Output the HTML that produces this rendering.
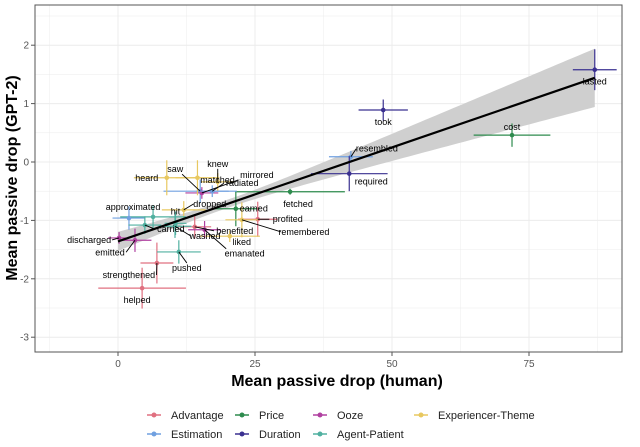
<!DOCTYPE html>
<html><head><meta charset="utf-8"><style>
body{margin:0;background:#fff;font-family:"Liberation Sans",sans-serif;}
svg text{font-family:"Liberation Sans",sans-serif;}
</style></head><body>
<svg id="chart" width="640" height="442" viewBox="0 0 640 442">
<g id="grid"></g>
<g id="ribbon"></g>
<g id="marks"></g>
<g id="fitg"></g>
<g id="labels"></g>
<rect x="35" y="5" width="587" height="347" fill="none" stroke="#555" stroke-width="1"/>
<g id="axes"></g>
<text x="337" y="386" text-anchor="middle" font-size="16" font-weight="bold">Mean passive drop (human)</text>
<text transform="translate(17,178) rotate(-90)" text-anchor="middle" font-size="16" font-weight="bold">Mean passive drop (GPT-2)</text>
<g id="legend"></g>
</svg>
<script>
const classNames=["Advantage","Price","Ooze","Experiencer-Theme","Estimation","Duration","Agent-Patient"];
const classColors=["#e07080","#2e8b4e","#b040a0","#e8c860","#70a0e0","#3a3090","#50b0a0"];
const verbs=["lasted","took","cost","resembled","required","fetched","earned","profited","remembered","liked","benefited","hit","washed","emanated","dropped","saw","mirrored","radiated","matched","knew","heard","approximated","approx2","discharged","emitted","carried","strengthened","pushed","helped"];
const verbClass=[5,5,1,4,5,1,1,0,3,3,0,6,6,2,3,4,2,4,3,3,3,6,4,2,2,6,0,6,0];
const xVals=[87,48.4,71.9,42.5,42.2,31.4,21.5,25.5,22.6,20.4,14,10.5,10.4,15.8,12,15,15.3,17.2,14.5,18.2,8.9,6.4,2,0.2,3.1,4.9,7.1,11.1,4.4];
const yVals=[1.58,0.89,0.46,0.09,-0.2,-0.51,-0.8,-0.98,-0.99,-1.27,-1.11,-1.05,-1.1,-1.16,-0.82,-0.5,-0.53,-0.5,-0.27,-0.34,-0.27,-0.94,-0.96,-1.3,-1.34,-1.08,-1.73,-1.54,-2.16];
const xErr=[4,4.5,7,4,7,10,4.4,3.6,3,5.5,3,2,3,3,4,6.7,3,3,4,3,6,6,3,2,3,3,3,4,8];
const yErr=[0.35,0.18,0.2,0.1,0.3,0.05,0.3,0.3,0.3,0.1,0.2,0.2,0.2,0.15,0.15,0.2,0.1,0.1,0.3,0.15,0.3,0.2,0.2,0.1,0.2,0.15,0.35,0.2,0.35];
const labelText=["lasted","took","cost","resembled","required","fetched","earned","profited","remembered","liked","benefited","hit","washed","emanated","dropped","saw","mirrored","radiated","matched","knew","heard","approximated","","discharged","emitted","carried","strengthened","pushed","helped"];
const labelDx=[0,0,0,26,22,8,18,30,62,12,40,0,30,40,26,-25,55,30,20,0,-20,-20,0,-30,-25,26,-28,8,-5];
const labelDy=[12,12,-8,-8,8,12,0,0,12,6,4,-12,10,24,-6,-22,-18,-8,2,-18,0,-10,0,2,12,4,12,16,12];
const xTicks=[0,25,50,75], yTicks=[-3,-2,-1,0,1,2];
const fitA=-1.36, fitB=0.0322, fitXm=20, seA=0.005, seB=0.0000545;
const X=v=>118+v*5.48, Y=v=>162-v*58.4;
const NS="http://www.w3.org/2000/svg";
function mk(p,t,a){const e=document.createElementNS(NS,t);for(const k in a)e.setAttribute(k,a[k]);p.appendChild(e);return e;}
const grid=document.getElementById('grid');
for(let v=-12.5;v<=87.5;v+=12.5){const l=mk(grid,'line',{x1:X(v),x2:X(v),y1:5,y2:352,stroke:'#ececec','stroke-width':Number.isInteger(v/25)?1:0.5});
}
for(let v=-3.5;v<=2.5;v+=0.5){if(Y(v)<5||Y(v)>352)continue;const l=mk(grid,'line',{x1:35,x2:622,y1:Y(v),y2:Y(v),stroke:'#ececec','stroke-width':Number.isInteger(v)?1:0.5});
}
const axes=document.getElementById('axes');
xTicks.forEach(t=>{mk(axes,'line',{x1:X(t),x2:X(t),y1:352,y2:356,stroke:'#555'});const tx=mk(axes,'text',{x:X(t),y:367,'text-anchor':'middle','font-size':10,fill:'#555'});tx.textContent=t;
});
yTicks.forEach(t=>{mk(axes,'line',{x1:31,x2:35,y1:Y(t),y2:Y(t),stroke:'#555'});const tx=mk(axes,'text',{x:29,y:Y(t)+3.5,'text-anchor':'end','font-size':10,fill:'#555'});tx.textContent=t;
});
const rib=document.getElementById('ribbon');let up=[],dn=[];
for(let x=0;x<=87;x+=1){const f=fitA+fitB*x,s=Math.sqrt(seA+seB*(x-fitXm)**2);up.push(X(x)+','+Y(f+s));dn.unshift(X(x)+','+Y(f-s));}
const band=mk(rib,'polygon',{points:up.concat(dn).join(' '),fill:'#cfcfcf'});

const marks=document.getElementById('marks');
verbs.forEach((v,i)=>{const c=classColors[verbClass[i]],g=mk(marks,'g',{});

mk(g,'line',{x1:X(xVals[i]-xErr[i]),x2:X(xVals[i]+xErr[i]),y1:Y(yVals[i]),y2:Y(yVals[i]),stroke:c,'stroke-width':1.2});
mk(g,'line',{x1:X(xVals[i]),x2:X(xVals[i]),y1:Y(yVals[i]-yErr[i]),y2:Y(yVals[i]+yErr[i]),stroke:c,'stroke-width':1.2});
mk(g,'circle',{cx:X(xVals[i]),cy:Y(yVals[i]),r:2.3,fill:c});});
const fit=mk(document.getElementById('fitg'),'line',{x1:X(0),y1:Y(fitA),x2:X(87),y2:Y(fitA+fitB*87),stroke:'#000','stroke-width':2.2});

const lab=document.getElementById('labels');
verbs.forEach((v,i)=>{if(!labelText[i])return;const px=X(xVals[i]),py=Y(yVals[i]),lx=px+labelDx[i],ly=py+labelDy[i];
if(Math.abs(labelDx[i])>24||Math.abs(labelDy[i])>14){const hw=labelText[i].length*2.3;const ex=labelDx[i]>24?lx-hw:(labelDx[i]<-24?lx+hw:lx);const ey=labelDy[i]>14?ly-5:(labelDy[i]<-14?ly+5:ly);
mk(lab,'line',{x1:px,y1:py,x2:ex,y2:ey,stroke:'#000','stroke-width':0.9});}
const t=mk(lab,'text',{x:lx,y:ly+3,'text-anchor':'middle','font-size':9});t.textContent=labelText[i];
});
const leg=document.getElementById('legend');
const legX=[147,235,313,414,147,235,313],legY=[415,415,415,415,434,434,434];
classNames.forEach((n,i)=>{const g=mk(leg,'g',{});
mk(g,'line',{x1:legX[i],x2:legX[i]+14,y1:legY[i],y2:legY[i],stroke:classColors[i],'stroke-width':1.5});
mk(g,'circle',{cx:legX[i]+7,cy:legY[i],r:2.5,fill:classColors[i]});
const t=mk(g,'text',{x:legX[i]+24,y:legY[i]+4,'font-size':11,fill:'#222'});t.textContent=n;});
</script>
</body></html>
